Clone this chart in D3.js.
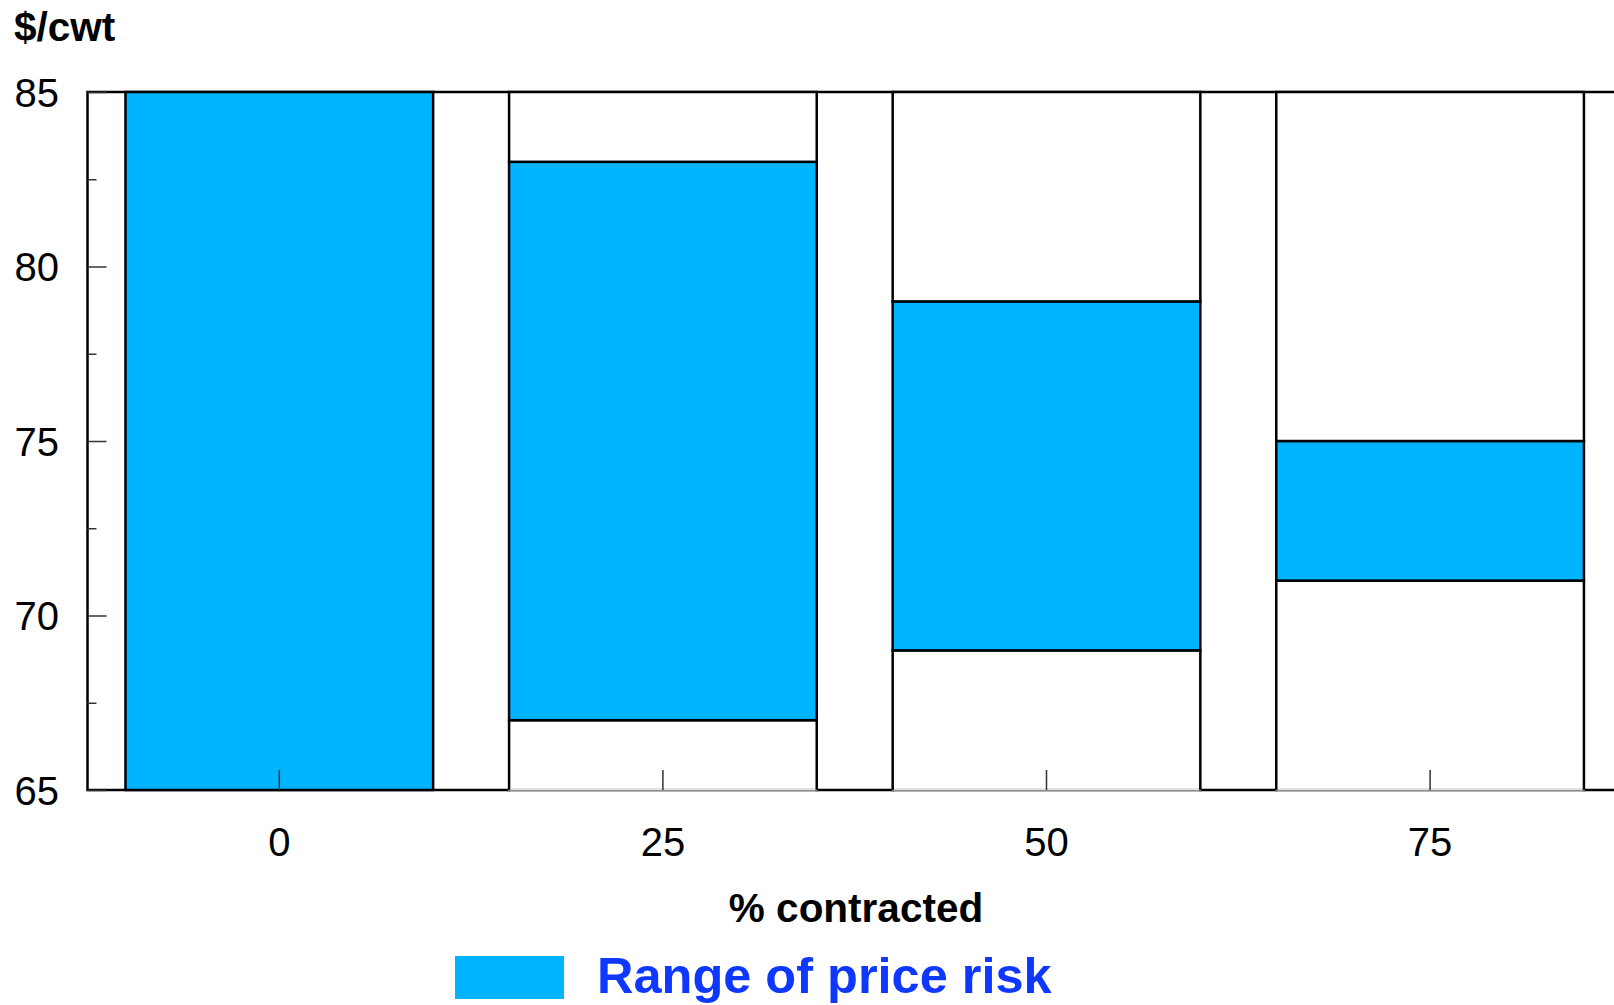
<!DOCTYPE html>
<html>
<head>
<meta charset="utf-8">
<script src="https://cdn.jsdelivr.net/npm/d3@7"></script>
<style>
  html, body { margin: 0; padding: 0; background: #fff; overflow: hidden; }
  svg { display: block; font-family: "Liberation Sans", Arial, sans-serif; }
</style>
</head>
<body>
<svg id="chart" width="1614" height="1005"></svg>
<script>
// ---- data ----
const categories = ["0", "25", "50", "75"];
const lowValues  = [65, 67, 69, 71];
const highValues = [85, 83, 79, 75];
const yMajorTicks = [65, 70, 75, 80, 85];
const yMinorTicks = [67.5, 72.5, 77.5, 82.5];
const yTitle = "$/cwt";
const xTitle = "% contracted";
const legendLabel = "Range of price risk";

const blue = "#00b4ff";
const svg = d3.select("#chart");

const plotLeft = 87.5, plotTop = 92, plotBottom = 790;
const x = d3.scaleBand().domain(categories)
  .range([plotLeft, plotLeft + 4 * 383.6])
  .paddingInner(0.198).paddingOuter(0.099);
const y = d3.scaleLinear().domain([65, 85]).range([plotBottom, plotTop]);

// plot frame
svg.append("rect")
  .attr("x", plotLeft).attr("y", y(85))
  .attr("width", x.range()[1] - plotLeft).attr("height", y(65) - y(85))
  .attr("fill", "#fff").attr("stroke", "#000").attr("stroke-width", 2.5);

// stacked segments
const segs = [];
categories.forEach((c, i) => {
  segs.push({c, y0: 65, y1: lowValues[i], fill: "#fff", kind: "bottom"});
  segs.push({c, y0: lowValues[i], y1: highValues[i], fill: blue, kind: "mid"});
  segs.push({c, y0: highValues[i], y1: 85, fill: "#fff", kind: "top"});
});
svg.append("g").selectAll("rect").data(segs.filter(d => d.y1 > d.y0)).join("rect")
  .attr("x", d => x(d.c)).attr("width", x.bandwidth())
  .attr("y", d => y(d.y1)).attr("height", d => y(d.y0) - y(d.y1))
  .attr("fill", d => d.fill).attr("stroke", "#000").attr("stroke-width", 2.5);

// bottom edge under white bottom segments appears as thin gray line
const whiteBottoms = segs.filter(d => d.kind === "bottom" && d.y1 > d.y0);
svg.append("g").selectAll("line").data(whiteBottoms).join("line")
  .attr("x1", d => x(d.c) + 1.3).attr("x2", d => x(d.c) + x.bandwidth() - 1.3)
  .attr("y1", y(65)).attr("y2", y(65))
  .attr("stroke", "#fff").attr("stroke-width", 3);
svg.append("g").selectAll("line").data(whiteBottoms).join("line")
  .attr("x1", d => x(d.c) - 1).attr("x2", d => x(d.c) + x.bandwidth() + 1)
  .attr("y1", y(65) + 0.5).attr("y2", y(65) + 0.5)
  .attr("stroke", "#8a8a8a").attr("stroke-width", 1.5);

// y axis (ticks inside)
const yAxis = svg.append("g").attr("transform", `translate(${plotLeft},0)`)
  .call(d3.axisLeft(y).tickValues(yMajorTicks).tickSizeInner(-19).tickSizeOuter(0).tickPadding(28.5).tickFormat(d3.format("d")));
yAxis.select(".domain").remove();
yAxis.selectAll("line").attr("stroke", "#333").attr("stroke-width", 1.5);
yAxis.selectAll("text").attr("font-size", 40).attr("fill", "#000").attr("dy", "0.36em")
  .attr("font-family", "Liberation Sans, Arial, sans-serif");

const yMinor = svg.append("g").attr("transform", `translate(${plotLeft},0)`)
  .call(d3.axisLeft(y).tickValues(yMinorTicks).tickSizeInner(-9).tickSizeOuter(0).tickFormat(""));
yMinor.select(".domain").remove();
yMinor.selectAll("line").attr("stroke", "#333").attr("stroke-width", 1.5);

// x axis (ticks inside pointing up)
const xAxis = svg.append("g").attr("transform", `translate(0,${plotBottom})`)
  .call(d3.axisBottom(x).tickSizeInner(-20).tickSizeOuter(0).tickPadding(38));
xAxis.select(".domain").remove();
xAxis.selectAll("line").attr("stroke", "#333").attr("stroke-width", 1.5);
xAxis.selectAll("text").attr("font-size", 40).attr("fill", "#000")
  .attr("font-family", "Liberation Sans, Arial, sans-serif");

// titles
svg.append("text").attr("x", 14).attr("y", 41)
  .attr("font-size", 40.5).attr("font-weight", "bold").attr("fill", "#000")
  .text(yTitle);
svg.append("text").attr("x", 856).attr("y", 922).attr("text-anchor", "middle")
  .attr("font-size", 40.5).attr("font-weight", "bold").attr("fill", "#000")
  .text(xTitle);

// legend
svg.append("rect").attr("x", 455).attr("y", 956).attr("width", 109).attr("height", 43)
  .attr("fill", blue);
svg.append("text").attr("x", 597).attr("y", 993)
  .attr("font-size", 50.5).attr("font-weight", "bold").attr("fill", "#0f38ff")
  .text(legendLabel);
</script>
</body>
</html>
